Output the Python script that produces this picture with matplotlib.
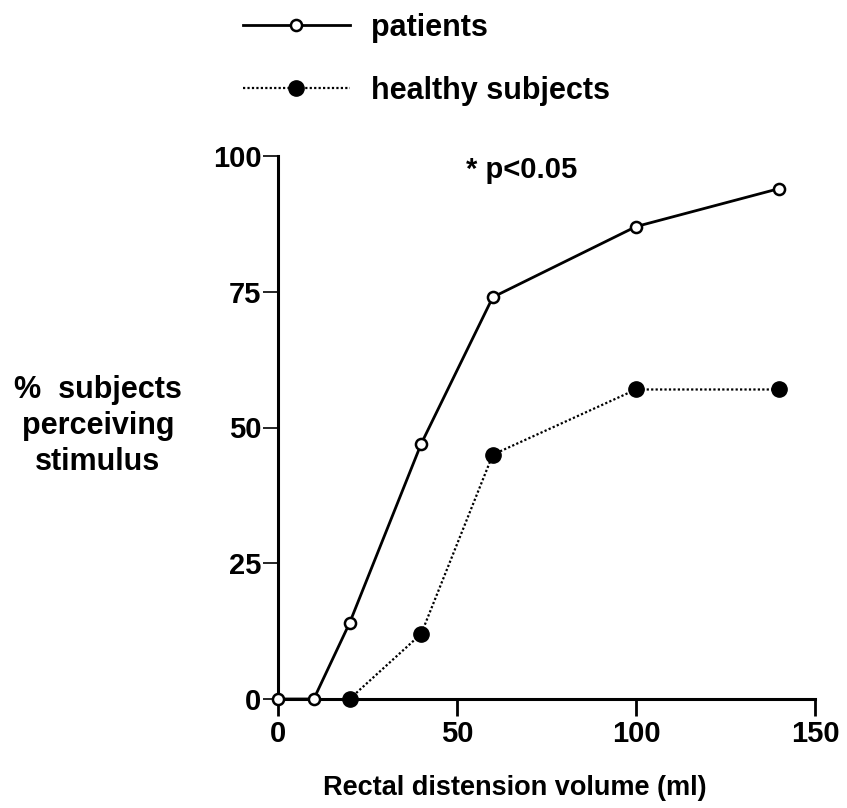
import matplotlib
matplotlib.use("Agg")
import matplotlib.pyplot as plt

volume_patients = [0, 10, 20, 40, 60, 100, 140]
pct_patients = [0, 0, 14, 47, 74, 87, 94]
volume_healthy = [20, 40, 60, 100, 140]
pct_healthy = [0, 12, 45, 57, 57]
xticks = [0, 50, 100, 150]
yticks = [0, 25, 50, 75, 100]

plt.rcParams['font.family'] = ['Liberation Sans', 'DejaVu Sans']
plt.rcParams['font.weight'] = 'bold'

fig = plt.figure(figsize=(8.47, 8.08), dpi=100)
ax = fig.add_axes([278/847, 1-699/808, 537/847, 543/808])

lp, = ax.plot(volume_patients, pct_patients, color='black', lw=2.0, marker='o',
              ms=8, mfc='white', mec='black', mew=1.8, clip_on=False, zorder=3,
              label='patients')
lh, = ax.plot(volume_healthy, pct_healthy, color='black', lw=1.6, ls=(0, (1, 1)),
              marker='o', ms=11, mfc='black', mec='black', clip_on=False, zorder=4,
              label='healthy subjects')

ax.set_xlim(0, 150)
ax.set_ylim(0, 100)
ax.set_xticks(xticks)
ax.set_yticks(yticks)
for s in ['top', 'right']:
    ax.spines[s].set_visible(False)
for s in ['left', 'bottom']:
    ax.spines[s].set_linewidth(2.2)
ax.tick_params(axis='y', direction='out', length=11, width=1.2, labelsize=21, pad=1)
ax.tick_params(axis='x', direction='out', length=12, width=2.0, labelsize=21, pad=3)

ax.text(52.5, 97.5, '* p<0.05', fontsize=21, fontweight='bold', va='center', ha='left')

fig.text(98/847, 1-426/808, '%  subjects\nperceiving\nstimulus', fontsize=22,
         fontweight='bold', ha='center', va='center', linespacing=1.25)
fig.text(515/847, 1-788/808, 'Rectal distension volume (ml)', fontsize=19.5,
         fontweight='bold', ha='center', va='center')

fig.legend(handles=[lp, lh], loc='upper left', bbox_to_anchor=(243/847, 1-13/808),
           frameon=False, fontsize=22, handlelength=3.5, handletextpad=0.7,
           labelspacing=1.07, borderpad=0, borderaxespad=0, markerscale=1.0)

fig.savefig('out.png', dpi=100)
